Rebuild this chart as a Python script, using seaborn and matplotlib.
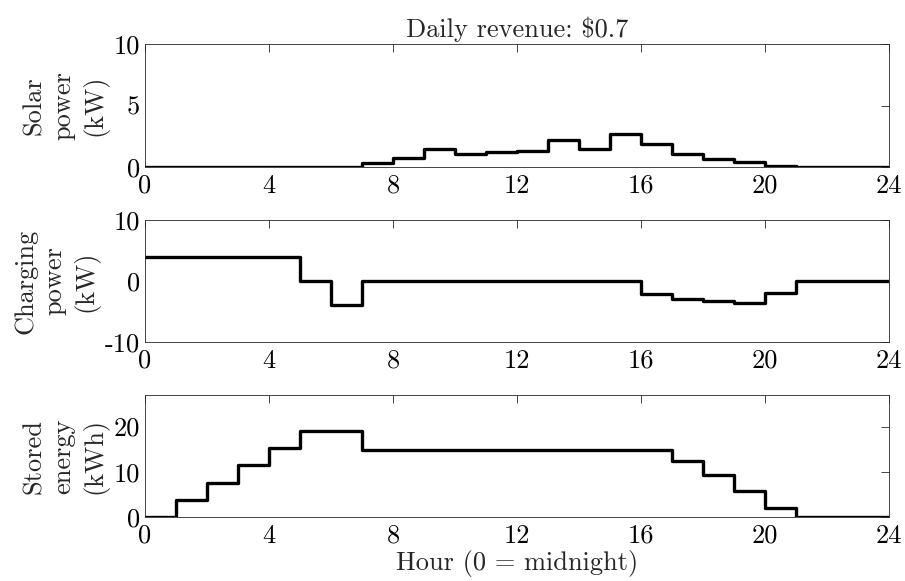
import matplotlib
matplotlib.use("Agg")
import matplotlib.pyplot as plt
import seaborn as sns
import pandas as pd

# ---- data (hourly values, one per hour 0..23) ----
hours = list(range(25))
solar_kw = [0, 0, 0, 0, 0, 0, 0, 0.3, 0.75, 1.47, 1.09, 1.23, 1.34, 2.23, 1.5, 2.7,
            1.83, 1.04, 0.68, 0.44, 0.08, 0, 0, 0]
charging_kw = [3.9, 3.9, 3.9, 3.9, 3.9, 0, -4.0, 0, 0, 0, 0, 0, 0, 0, 0, 0,
               -2.2, -2.9, -3.3, -3.6, -1.9, 0, 0, 0]
stored_kwh = [0, 3.85, 7.6, 11.45, 15.25, 19.0, 19.0, 14.75, 14.75, 14.75, 14.75, 14.75,
              14.75, 14.75, 14.75, 14.75, 14.75, 12.4, 9.35, 5.8, 2.05, 0, 0, 0]
xticks = [0, 4, 8, 12, 16, 20, 24]
title_text = "Daily revenue: \\$0.7"
xlabel_text = "Hour (0 = midnight)"
panels = [
    ("Solar\npower\n(kW)", solar_kw, (0, 10), [0, 5, 10]),
    ("Charging\npower\n(kW)", charging_kw, (-10, 10), [-10, 0, 10]),
    ("Stored\nenergy\n(kWh)", stored_kwh, (0, 27), [0, 10, 20]),
]

sns.set_style("white")
plt.rcParams["font.family"] = ["cmr10", "DejaVu Sans"]
plt.rcParams["mathtext.fontset"] = "cm"
plt.rcParams["axes.unicode_minus"] = False
plt.rcParams["axes.formatter.use_mathtext"] = False

fig = plt.figure(figsize=(9.05, 5.81), dpi=100)
W = 905.0
H = 581.0
left = 145 / W
width = (889 - 145) / W
rows = [(44, 167), (220, 342), (395, 517)]
axc = "#262626"
fs = 19

for i, ((lab, vals, ylim, yt), (t, b)) in enumerate(zip(panels, rows)):
    ax = fig.add_axes([left, 1 - b / H, width, (b - t) / H])
    df = pd.DataFrame({"hour": hours, "val": list(vals) + [vals[-1]]})
    sns.lineplot(data=df, x="hour", y="val", ax=ax, color="black", linewidth=2.4,
                 drawstyle="steps-post")
    ax.set_xlim(0, 24)
    ax.set_ylim(*ylim)
    ax.set_xticks(xticks)
    ax.set_yticks(yt)
    ax.tick_params(direction="in", length=5.5, width=0.6, color=axc, labelcolor="black",
                   labelsize=fs, top=True, right=True)
    ax.tick_params(axis="x", pad=5)
    ax.tick_params(axis="y", pad=3.5)
    for s in ax.spines.values():
        s.set_visible(True)
        s.set_color(axc)
        s.set_linewidth(0.6)
    ax.set_ylabel(lab, fontsize=fs, linespacing=1.3, labelpad=4)
    ax.set_xlabel(xlabel_text if i == 2 else "", fontsize=fs, labelpad=2)
    if i == 0:
        ax.set_title(title_text, fontsize=fs, pad=5)

fig.savefig("out.png", dpi=100)
